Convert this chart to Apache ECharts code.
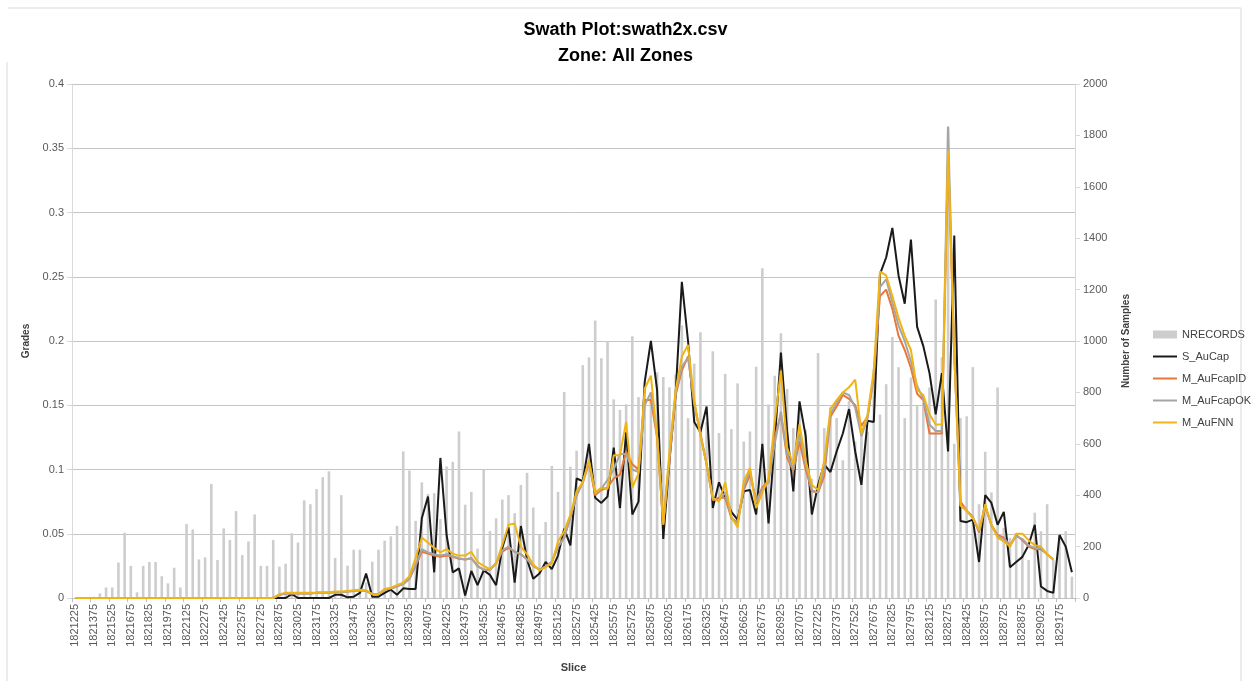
<!DOCTYPE html>
<html>
<head>
<meta charset="utf-8">
<script src="https://cdn.jsdelivr.net/npm/echarts@6/dist/echarts.min.js"></script>
<style>
  html, body { margin: 0; padding: 0; background: #fff; }
  #chart { width: 1251px; height: 681px; }
</style>
</head>
<body>
<div id="chart"></div>
<script>
// slice categories: 1821225 .. 1829275, one every 50
var SLICE_START = 1821225;
var SLICE_STEP = 50;
var SLICE_COUNT = 162;
var slices = [];
for (var i = 0; i < SLICE_COUNT; i++) {
  slices.push(String(SLICE_START + i * SLICE_STEP));
}

var gradeTicks = [0, 0.05, 0.1, 0.15, 0.2, 0.25, 0.3, 0.35, 0.4];
var sampleTicks = [0, 200, 400, 600, 800, 1000, 1200, 1400, 1600, 1800, 2000];

// number of samples per slice (right axis)
var nrecords = [
  0, 0, 0, 5, 18, 41, 41, 138, 254, 125,
  22, 125, 140, 140, 85, 57, 118, 41, 288, 267,
  150, 158, 444, 148, 271, 226, 338, 167, 220, 325,
  125, 125, 226, 122, 133, 252, 216, 380, 365, 424,
  470, 493, 156, 400, 126, 188, 188, 60, 141, 188,
  223, 240, 281, 570, 496, 300, 450, 405, 408, 307,
  512, 530, 648, 363, 413, 192, 500, 261, 310, 383,
  400, 330, 440, 487, 352, 248, 296, 514, 413, 802,
  511, 573, 906, 936, 1080, 933, 1000, 773, 732, 754,
  1018, 782, 830, 800, 878, 860, 820, 870, 1060, 700,
  912, 1034, 685, 960, 642, 872, 657, 835, 609, 648,
  900, 1283, 753, 865, 1030, 813, 661, 753, 655, 464,
  953, 661, 743, 700, 536, 766, 609, 661, 648, 891,
  714, 832, 1016, 898, 700, 858, 747, 760, 819, 1161,
  937, 1832, 600, 700, 707, 898, 365, 569, 411, 819,
  273, 234, 253, 227, 148, 332, 260, 365, 148, 250,
  260, 83
];

// grades (left axis)
var sAuCap = [
  0, 0, 0, 0, 0, 0, 0, 0, 0, 0,
  0, 0, 0, 0, 0, 0, 0, 0, 0, 0,
  0, 0, 0, 0, 0, 0, 0, 0, 0, 0,
  0, 0, 0, 0, 0, 0.003, 0, 0, 0, 0,
  0, 0, 0.0025, 0.0025, 0.0005, 0.001, 0.004, 0.019, 0.001, 0.001,
  0.004, 0.0065, 0.0025, 0.0075, 0.007, 0.007, 0.062, 0.079, 0.020, 0.109,
  0.049, 0.020, 0.023, 0.002, 0.021, 0.010, 0.0215, 0.018, 0.010, 0.039,
  0.055, 0.012, 0.056, 0.030, 0.015, 0.019, 0.028, 0.0225, 0.033, 0.054,
  0.041, 0.093, 0.091, 0.120, 0.078, 0.074, 0.079, 0.117, 0.070, 0.129,
  0.065, 0.075, 0.168, 0.200, 0.162, 0.046, 0.107, 0.159, 0.246, 0.200,
  0.137, 0.129, 0.149, 0.070, 0.090, 0.078, 0.067, 0.061, 0.083, 0.084,
  0.065, 0.120, 0.058, 0.122, 0.191, 0.130, 0.083, 0.153, 0.126, 0.065,
  0.088, 0.104, 0.098, 0.114, 0.128, 0.147, 0.114, 0.088, 0.138, 0.137,
  0.252, 0.265, 0.288, 0.251, 0.229, 0.279, 0.211, 0.196, 0.175, 0.143,
  0.175, 0.114, 0.282, 0.060, 0.059, 0.061, 0.028, 0.080, 0.074, 0.057,
  0.067, 0.024, 0.028, 0.032, 0.041, 0.057, 0.009, 0.0055, 0.004, 0.049,
  0.040, 0.020
];

var mAuFcapID = [
  0, 0, 0, 0, 0, 0, 0, 0, 0, 0,
  0, 0, 0, 0, 0, 0, 0, 0, 0, 0,
  0, 0, 0, 0, 0, 0, 0, 0, 0, 0,
  0, 0, 0, 0.0025, 0.0035, 0.0035, 0.0035, 0.0035, 0.0035, 0.004,
  0.004, 0.004, 0.0045, 0.0045, 0.005, 0.0055, 0.006, 0.0055, 0.003, 0.003,
  0.0065, 0.0075, 0.009, 0.011, 0.015, 0.025, 0.036, 0.0345, 0.033, 0.032,
  0.033, 0.032, 0.0305, 0.030, 0.031, 0.025, 0.022, 0.022, 0.027, 0.036,
  0.039, 0.036, 0.034, 0.030, 0.025, 0.022, 0.0245, 0.028, 0.040, 0.047,
  0.063, 0.080, 0.090, 0.105, 0.080, 0.084, 0.086, 0.093, 0.096, 0.114,
  0.104, 0.100, 0.154, 0.154, 0.125, 0.057, 0.107, 0.158, 0.177, 0.188,
  0.151, 0.128, 0.104, 0.076, 0.078, 0.078, 0.062, 0.059, 0.084, 0.096,
  0.076, 0.086, 0.091, 0.125, 0.143, 0.109, 0.099, 0.122, 0.100, 0.083,
  0.082, 0.095, 0.141, 0.149, 0.158, 0.155, 0.150, 0.134, 0.141, 0.172,
  0.235, 0.240, 0.225, 0.204, 0.193, 0.179, 0.159, 0.154, 0.128, 0.128,
  0.128, 0.345, 0.190, 0.075, 0.068, 0.063, 0.051, 0.071, 0.057, 0.049,
  0.047, 0.041, 0.049, 0.045, 0.040, 0.038, 0.038, 0.034, 0.030, null,
  null, null
];

var mAuFcapOK = [
  0, 0, 0, 0, 0, 0, 0, 0, 0, 0,
  0, 0, 0, 0, 0, 0, 0, 0, 0, 0,
  0, 0, 0, 0, 0, 0, 0, 0, 0, 0,
  0, 0, 0, 0.0025, 0.0035, 0.0035, 0.0035, 0.0035, 0.0035, 0.004,
  0.004, 0.004, 0.0045, 0.0045, 0.005, 0.0055, 0.006, 0.0055, 0.003, 0.003,
  0.0065, 0.0075, 0.009, 0.011, 0.015, 0.026, 0.038, 0.0355, 0.034, 0.033,
  0.034, 0.0325, 0.031, 0.030, 0.031, 0.0246, 0.022, 0.022, 0.027, 0.037,
  0.040, 0.036, 0.034, 0.030, 0.025, 0.022, 0.0246, 0.028, 0.040, 0.047,
  0.063, 0.080, 0.090, 0.106, 0.081, 0.085, 0.092, 0.100, 0.112, 0.112,
  0.100, 0.098, 0.150, 0.160, 0.127, 0.058, 0.110, 0.160, 0.180, 0.187,
  0.152, 0.127, 0.104, 0.077, 0.076, 0.082, 0.063, 0.057, 0.086, 0.100,
  0.074, 0.085, 0.090, 0.120, 0.145, 0.112, 0.100, 0.128, 0.104, 0.084,
  0.082, 0.100, 0.143, 0.152, 0.160, 0.158, 0.148, 0.126, 0.140, 0.174,
  0.242, 0.248, 0.230, 0.212, 0.200, 0.184, 0.165, 0.155, 0.135, 0.130,
  0.130, 0.367, 0.190, 0.072, 0.068, 0.063, 0.052, 0.072, 0.056, 0.048,
  0.046, 0.041, 0.048, 0.046, 0.041, 0.039, 0.039, 0.034, 0.030, null,
  null, null
];

var mAuFNN = [
  0, 0, 0, 0, 0, 0, 0, 0, 0, 0,
  0, 0, 0, 0, 0, 0, 0, 0, 0, 0,
  0, 0, 0, 0, 0, 0, 0, 0, 0, 0,
  0, 0, 0, 0.003, 0.004, 0.004, 0.004, 0.004, 0.004, 0.0042,
  0.0045, 0.0045, 0.005, 0.005, 0.0055, 0.006, 0.0065, 0.006, 0.003, 0.003,
  0.007, 0.008, 0.010, 0.012, 0.017, 0.031, 0.047, 0.043, 0.039, 0.0355,
  0.038, 0.0345, 0.033, 0.033, 0.036, 0.028, 0.025, 0.0225, 0.027, 0.0415,
  0.057, 0.058, 0.040, 0.034, 0.026, 0.0215, 0.024, 0.027, 0.044, 0.052,
  0.065, 0.083, 0.090, 0.107, 0.082, 0.086, 0.085, 0.111, 0.111, 0.137,
  0.086, 0.097, 0.163, 0.173, 0.125, 0.057, 0.114, 0.162, 0.188, 0.197,
  0.154, 0.126, 0.104, 0.078, 0.075, 0.090, 0.063, 0.055, 0.091, 0.101,
  0.070, 0.082, 0.093, 0.137, 0.177, 0.117, 0.104, 0.135, 0.107, 0.088,
  0.084, 0.107, 0.147, 0.154, 0.160, 0.164, 0.170, 0.128, 0.143, 0.177,
  0.254, 0.251, 0.235, 0.218, 0.204, 0.193, 0.162, 0.158, 0.143, 0.135,
  0.135, 0.348, 0.190, 0.072, 0.068, 0.062, 0.053, 0.073, 0.057, 0.047,
  0.044, 0.040, 0.050, 0.050, 0.045, 0.041, 0.040, 0.034, 0.030, null,
  null, null
];

var chart = echarts.init(document.getElementById('chart'));

var axisText = { color: '#595959', fontSize: 11, fontFamily: 'Liberation Sans' };
var nameText = { color: '#404040', fontSize: 10, fontWeight: 'bold', fontFamily: 'Liberation Sans' };
// thin bar used as the legend mark of a line (legend keeps the aspect)
var LINE_ICON = 'path://M0,0h24v2h-24z';

// line series share the same look, only colour changes
function gradeLine(name, data, color, width) {
  return {
    name: name,
    type: 'line',
    yAxisIndex: 0,
    data: data,
    symbol: 'none',
    connectNulls: false,
    lineStyle: { color: color, width: width },
    itemStyle: { color: color },
    emphasis: { disabled: true },
    animation: false
  };
}

chart.setOption({
  backgroundColor: '#fff',
  animation: false,
  title: {
    text: 'Swath Plot:swath2x.csv\nZone: All Zones',
    left: 'center',
    top: 12,
    textStyle: { fontSize: 18, fontWeight: 'bold', color: '#000', lineHeight: 26, fontFamily: 'Liberation Sans' }
  },
  graphic: [
    { type: 'line', shape: { x1: 8, y1: 8, x2: 1241, y2: 8 }, style: { stroke: '#d9d9d9', lineWidth: 1 } },
    { type: 'line', shape: { x1: 1241, y1: 8, x2: 1241, y2: 681 }, style: { stroke: '#d9d9d9', lineWidth: 1 } },
    { type: 'line', shape: { x1: 7, y1: 62, x2: 7, y2: 681 }, style: { stroke: '#d9d9d9', lineWidth: 1 } }
  ],
  legend: {
    orient: 'vertical',
    left: 1148,
    top: 324,
    itemWidth: 24,
    itemHeight: 8,
    itemGap: 11,
    textStyle: { color: '#404040', fontSize: 11, fontFamily: 'Liberation Sans' },
    data: [
      { name: 'NRECORDS', icon: 'rect' },
      { name: 'S_AuCap', icon: LINE_ICON },
      { name: 'M_AuFcapID', icon: LINE_ICON },
      { name: 'M_AuFcapOK', icon: LINE_ICON },
      { name: 'M_AuFNN', icon: LINE_ICON }
    ]
  },
  grid: { left: 72, right: 176, top: 84, bottom: 83 },
  xAxis: {
    type: 'category',
    data: slices,
    boundaryGap: true,
    name: 'Slice',
    nameLocation: 'middle',
    nameGap: 64,
    nameTextStyle: { color: '#404040', fontSize: 11, fontWeight: 'bold', fontFamily: 'Liberation Sans' },
    axisLine: { lineStyle: { color: '#bfbfbf' } },
    axisTick: { show: true, interval: 2, length: 4, lineStyle: { color: '#bfbfbf' } },
    axisLabel: Object.assign({ interval: 2, rotate: 90, margin: 6 }, axisText),
    splitLine: { show: false }
  },
  yAxis: [
    {
      type: 'value',
      min: gradeTicks[0],
      max: gradeTicks[gradeTicks.length - 1],
      interval: 0.05,
      name: 'Grades',
      nameLocation: 'middle',
      nameRotate: 90,
      nameGap: 40,
      nameTextStyle: nameText,
      axisLine: { show: true, lineStyle: { color: '#d9d9d9', width: 1 } },
      axisTick: { show: true, length: 5, lineStyle: { color: '#d9d9d9' } },
      axisLabel: Object.assign({
        margin: 8,
        formatter: function (v) { return String(+v.toFixed(2)); }
      }, axisText),
      splitLine: { show: true, lineStyle: { color: '#c4c4c4', width: 1 } }
    },
    {
      type: 'value',
      position: 'right',
      min: sampleTicks[0],
      max: sampleTicks[sampleTicks.length - 1],
      interval: 200,
      name: 'Number of Samples',
      nameLocation: 'middle',
      nameRotate: 90,
      nameGap: 46,
      nameTextStyle: nameText,
      axisLine: { show: true, lineStyle: { color: '#d9d9d9', width: 1 } },
      axisTick: { show: true, length: 5, lineStyle: { color: '#d9d9d9' } },
      axisLabel: Object.assign({
        margin: 8,
        formatter: function (v) { return String(v); }
      }, axisText),
      splitLine: { show: false }
    }
  ],
  series: [
    {
      name: 'NRECORDS',
      type: 'bar',
      yAxisIndex: 1,
      data: nrecords,
      barWidth: '42%',
      itemStyle: { color: '#cdcdcd' },
      emphasis: { disabled: true }
    },
    gradeLine('S_AuCap', sAuCap, '#1a1a1a', 2),
    gradeLine('M_AuFcapID', mAuFcapID, '#e8773a', 2),
    gradeLine('M_AuFcapOK', mAuFcapOK, '#a5a5a5', 2),
    gradeLine('M_AuFNN', mAuFNN, '#f0b414', 2)
  ]
});
</script>
</body>
</html>
